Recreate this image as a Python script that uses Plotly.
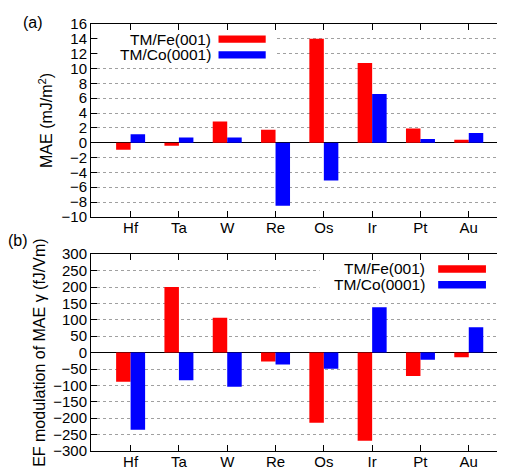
import plotly.graph_objects as go
from plotly.subplots import make_subplots

elements = ["Hf", "Ta", "W", "Re", "Os", "Ir", "Pt", "Au"]
mae_fe = [-0.95, -0.4, 2.85, 1.75, 14.0, 10.75, 1.9, 0.4]
mae_co = [1.15, 0.7, 0.7, -8.5, -5.1, 6.55, 0.5, 1.3]
gamma_fe = [-89, 200, 106, -27, -214, -269, -71, -14]
gamma_co = [-235, -84, -104, -36, -49, 138, -22, 77]
series_names = ["TM/Fe(001)", "TM/Co(0001)"]
series_colors = ["#ff0000", "#0000ff"]

FONT = "Liberation Sans, Arial, Helvetica, sans-serif"

fig = make_subplots(rows=2, cols=1, vertical_spacing=0.0)

for name, vals, col in zip(series_names, [mae_fe, mae_co], series_colors):
    fig.add_trace(go.Bar(x=elements, y=vals, name=name, marker_color=col,
                         marker_line_width=0, showlegend=False), row=1, col=1)
for name, vals, col in zip(series_names, [gamma_fe, gamma_co], series_colors):
    fig.add_trace(go.Bar(x=elements, y=vals, name=name, marker_color=col,
                         marker_line_width=0, showlegend=False), row=2, col=1)

axis_common = dict(showline=True, linecolor="black", linewidth=1, mirror="ticks",
                   ticks="inside", ticklen=6, tickwidth=1, tickcolor="black",
                   tickfont=dict(family=FONT, size=15, color="black"))

xcommon = dict(axis_common, range=[-0.82, 7.75], showgrid=False, zeroline=False,
               ticklabelstandoff=-3)
fig.update_xaxes(**xcommon, domain=[0, 1])

ycommon = dict(axis_common, showgrid=True, gridcolor="#a0a0a0", gridwidth=1,
               griddash="dot", zeroline=True, zerolinecolor="black", zerolinewidth=1)
fig.update_yaxes(**ycommon)

fig.update_layout(
    xaxis=dict(anchor="y"),
    yaxis=dict(domain=[0.5484, 1.0], range=[-10, 16], dtick=2,
               title=dict(text="MAE (mJ/m<sup>2</sup>)", standoff=4,
                          font=dict(family=FONT, size=16, color="black"))),
    xaxis2=dict(anchor="y2"),
    yaxis2=dict(domain=[0.0, 0.4608], range=[-300, 300], dtick=50,
                title=dict(text="EF modulation of MAE γ (fJ/Vm)", standoff=3,
                           font=dict(family=FONT, size=16, color="black"))),
    barmode="group", bargap=0.4, bargroupgap=0.0,
    width=505, height=475,
    margin=dict(l=83, r=7, t=9, b=32),
    plot_bgcolor="white", paper_bgcolor="white",
    font=dict(family=FONT, size=15, color="black"),
)

shapes = []
annotations = []
keys = [
    # xref, yref, box x0, x1, y0, y1, text right, swatch x0, x1, row ys, half height
    ("x domain", "y domain", 0.017, 0.448, 0.801, 0.957, 0.294, 0.308, 0.422, [0.922, 0.840], 0.019),
    ("x2 domain", "y2 domain", 0.552, 0.982, 0.795, 0.958, 0.812, 0.8386, 0.954, [0.925, 0.845], 0.0185),
]
for xr, yr, bx0, bx1, by0, by1, tx, sx0, sx1, rows, hh in keys:
    shapes.append(dict(type="rect", xref=xr, yref=yr, x0=bx0, x1=bx1, y0=by0, y1=by1,
                       fillcolor="white", line_width=0, layer="above"))
    for name, col, yy in zip(series_names, series_colors, rows):
        shapes.append(dict(type="rect", xref=xr, yref=yr, x0=sx0, x1=sx1,
                           y0=yy - hh, y1=yy + hh, fillcolor=col, line_width=0,
                           layer="above"))
        annotations.append(dict(text=name, xref=xr, yref=yr, x=tx, y=yy,
                                xanchor="right", yanchor="middle", showarrow=False,
                                font=dict(family=FONT, size=15.5, color="black")))

annotations.append(dict(text="(a)", xref="paper", yref="paper", x=-0.141, y=1.0046,
                        xanchor="center", yanchor="middle", showarrow=False,
                        font=dict(family=FONT, size=16, color="black")))
annotations.append(dict(text="(b)", xref="paper", yref="paper", x=-0.176, y=0.493,
                        xanchor="center", yanchor="middle", showarrow=False,
                        font=dict(family=FONT, size=16, color="black")))

fig.update_layout(shapes=shapes, annotations=annotations)

fig.write_html("out.html")
